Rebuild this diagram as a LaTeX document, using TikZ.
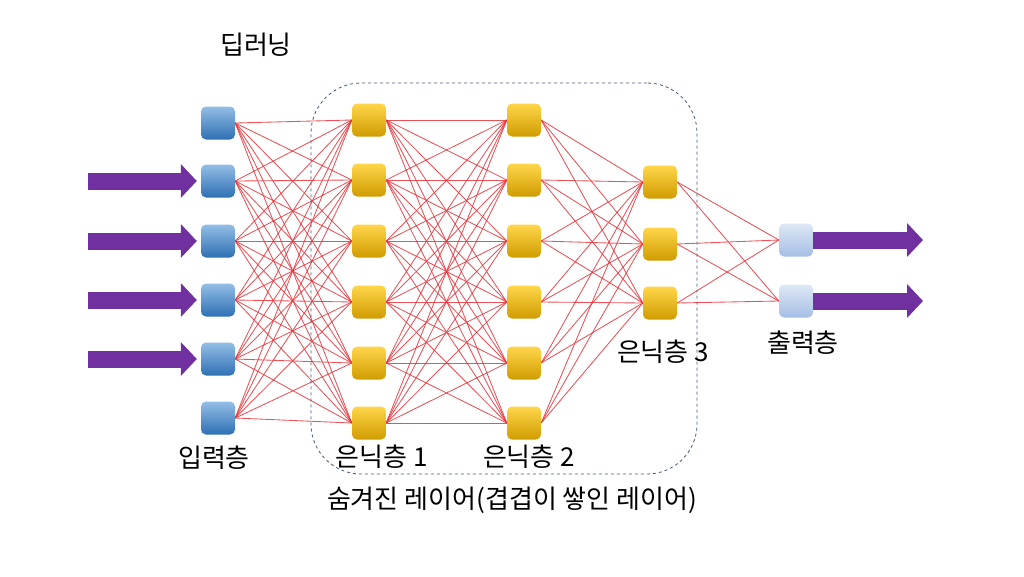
\documentclass[tikz,border=0pt]{standalone}
\usepackage{fontspec}
\setmainfont{Noto Sans CJK KR}
\usetikzlibrary{arrows.meta,backgrounds}
\definecolor{purp}{HTML}{7030A0}
\definecolor{redl}{HTML}{E8333A}
\definecolor{dashc}{HTML}{44587A}
\begin{document}
\begin{tikzpicture}[x=1pt,y=-1pt,
  nbox/.style={rounded corners=5pt,minimum width=34pt,minimum height=33pt,inner sep=0pt},
  inbox/.style={nbox,top color={rgb,255:red,148;green,190;blue,230},bottom color={rgb,255:red,46;green,112;blue,180}},
  hbox/.style={nbox,top color={rgb,255:red,255;green,214;blue,74},bottom color={rgb,255:red,208;green,156;blue,0}},
  obox/.style={nbox,top color={rgb,255:red,222;green,232;blue,246},bottom color={rgb,255:red,166;green,190;blue,228}},
  link/.style={draw=redl,opacity=0.85,line width=0.85pt},
  bigarrow/.style={draw=purp,line width=17pt,-{Triangle[length=16pt,width=33pt]}},
  lbl/.style={font=\fontsize{26}{30}\selectfont,inner sep=0pt},
  hiddenbox/.style={draw=dashc,dashed,line width=0.8pt,rounded corners=50pt,minimum width=386pt,minimum height=391pt,inner sep=0pt}
]
% hidden-layer frame
\node[hiddenbox] (hb) at (504,278.5) {};
% input layer
\foreach \i/\y in {1/123,2/181,3/241,4/300,5/359,6/418}
  \node[inbox] (in\i) at (218,\y) {};
% hidden 1
\foreach \i/\y in {1/120,2/180,3/241,4/302,5/363,6/423}
  \node[hbox] (ha\i) at (369,\y) {};
% hidden 2
\foreach \i/\y in {1/120,2/180,3/241,4/302,5/363,6/423}
  \node[hbox] (hb\i) at (524,\y) {};
% hidden 3
\foreach \i/\y in {1/182,2/244,3/303}
  \node[hbox] (hc\i) at (660,\y) {};
% output
\foreach \i/\y in {1/240,2/301}
  \node[obox] (out\i) at (796,\y) {};
% links, behind the nodes
\begin{scope}[on background layer]
\fill[white] (0,0) rectangle (1024,576);
\foreach \a in {1,...,6}{
  \foreach \b in {1,...,6}{
    \draw[link] (in\a.east) -- (ha\b.west);
    \draw[link] (ha\a.east) -- (hb\b.west);
  }
  \foreach \b in {1,2,3}{
    \draw[link] (hb\a.east) -- (hc\b.west);
  }
}
\foreach \a in {1,2,3}{
  \foreach \b in {1,2}{
    \draw[link] (hc\a.east) -- (out\b.west);
  }
}
\end{scope}
% arrows
\foreach \i/\y in {2/181,3/241,4/300,5/359}{
  \coordinate (ain\i) at (88,\y);
  \draw[bigarrow,shorten >=4pt] (ain\i) -- (in\i.west);
}
\coordinate (aout1) at (923,240);
\coordinate (aout2) at (923,301);
\draw[bigarrow] (out1.east) -- (aout1);
\draw[bigarrow] (out2.east) -- (aout2);
% labels
\node[lbl] (t0) at (256,45) {딥러닝};
\node[lbl] (t1) at (214,458) {입력층};
\node[lbl] (t2) at (382,457) {은닉층 1};
\node[lbl] (t3) at (529,457) {은닉층 2};
\node[lbl] (t4) at (663,352) {은닉층 3};
\node[lbl] (t5) at (803,343) {출력층};
\node[lbl] (t6) at (512,500) {숨겨진 레이어(겹겹이 쌓인 레이어)};
\end{tikzpicture}
\end{document}
